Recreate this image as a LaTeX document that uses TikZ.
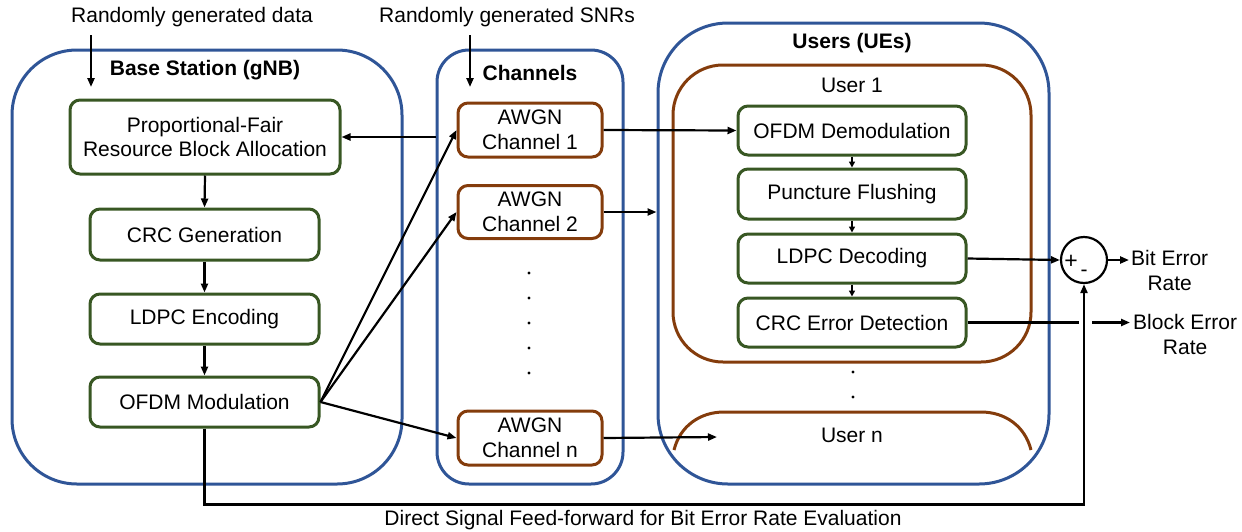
\documentclass[tikz,border=0pt]{standalone}
\usepackage{fontspec}
\setmainfont{Liberation Sans}
\usetikzlibrary{arrows.meta}
\definecolor{cblue}{RGB}{47,85,151}
\definecolor{cgreen}{RGB}{56,87,35}
\definecolor{cbrown}{RGB}{132,60,12}
\begin{document}
\begin{tikzpicture}[x=1pt,y=-1pt,
  every node/.style={font=\fontsize{21}{24.5}\selectfont, inner sep=0pt},
  bold/.style={font=\fontsize{21}{24.5}\selectfont\bfseries},
  cont/.style={draw=cblue, line width=3pt},
  gbox/.style={draw=cgreen, line width=3pt, rounded corners=10pt, fill=white, align=center},
  rbox/.style={draw=cbrown, line width=3pt, rounded corners=10pt, fill=white, align=center},
  arr/.style={line width=2.2pt, -{Triangle[length=9pt,width=7pt]}},
  sarr/.style={line width=2.2pt, -{Triangle[length=6pt,width=6pt]}},
  ln/.style={line width=2.2pt}]
\useasboundingbox (0,0) rectangle (1242,531);

% containers
\node[cont, rounded corners=65pt, minimum width=390pt, minimum height=434pt] (bs) at (207,267) {};
\node[cont, rounded corners=32pt, minimum width=186pt, minimum height=434pt] (chan) at (530,267) {};
\node[cont, rounded corners=70pt, minimum width=391pt, minimum height=461pt] (users) at (853.5,253.5) {};
\node[draw=cbrown, line width=3pt, rounded corners=50pt, minimum width=358pt, minimum height=297pt] (user1) at (852,213.5) {};
\draw[draw=cbrown, line width=3pt] (674,450) .. controls (680,426) and (700,412) .. (724,412) -- (981,412) .. controls (1005,412) and (1025,426) .. (1031,450);

% headings
\node[bold] (bsl) at (205,70) {Base Station (gNB)};
\node[bold] (chl) at (530,73) {Channels};
\node[bold] (usl) at (852,43) {Users (UEs)};
\node (u1l) at (852,85) {User 1};
\node (unl) at (852,435) {User n};

% top inputs
\node (data) at (192,17) {Randomly generated data};
\node (snr) at (507,17) {Randomly generated SNRs};
\coordinate (d0) at (91,35); \coordinate (d1) at (91,87);
\coordinate (s0) at (470,35); \coordinate (s1) at (470,87);
\draw[arr] (d0) -- (d1);
\draw[arr] (s0) -- (s1);

% base station blocks
\node[gbox, minimum width=270pt, minimum height=74pt] (pf) at (205,137) {Proportional-Fair\\Resource Block Allocation};
\node[gbox, minimum width=229pt, minimum height=51pt] (crcg) at (204.5,234.5) {CRC Generation};
\node[gbox, minimum width=229pt, minimum height=50pt] (ldpce) at (204.5,319) {LDPC Encoding};
\node[gbox, minimum width=229pt, minimum height=50pt] (ofdm) at (204.5,402) {OFDM Modulation};

% channels
\node[rbox, minimum width=144pt, minimum height=54pt] (ch1) at (530,130) {AWGN\\Channel 1};
\node[rbox, minimum width=144pt, minimum height=53pt] (ch2) at (530,212) {AWGN\\Channel 2};
\node[rbox, minimum width=144pt, minimum height=54pt] (chn) at (530,438) {AWGN\\Channel n};
\foreach \yy in {273,298,323,348,373} \fill (529,\yy) circle (1.6pt);

% user blocks
\node[gbox, minimum width=228pt, minimum height=49pt] (demod) at (852,130.5) {OFDM Demodulation};
\node[gbox, minimum width=228pt, minimum height=50pt] (flush) at (852,194) {Puncture Flushing};
\node[gbox, minimum width=228pt, minimum height=49pt] (ldpcd) at (852,258.5) {LDPC Decoding};
\node[gbox, minimum width=228pt, minimum height=49pt] (crcd) at (852,322.5) {CRC Error Detection};
\fill (853,372) circle (1.6pt);
\fill (853,397) circle (1.6pt);

% comparator
\node[draw, circle, line width=2.2pt, minimum size=46pt] (sum) at (1084,260) {};
\node[font=\fontsize{23}{24}\selectfont] (plus) at (1071,262) {+};
\node[font=\fontsize{21}{22}\selectfont] (minus) at (1084,273) {-};
\node[align=center, anchor=west] (ber) at (1131,270.5) {Bit Error\\Rate};
\node[align=center, anchor=west] (bler) at (1133,334.5) {Block Error\\Rate};
\coordinate (berin) at (1129,260);
\coordinate (blgap0) at (1079,322.5);
\coordinate (blgap1) at (1092,322.5);
\coordinate (blerin) at (1130,322.5);
\coordinate (unin) at (717,437);

% connectors in base station
\draw[arr] (pf.south) -- (crcg.north);
\draw[arr] (crcg.south) -- (ldpce.north);
\draw[arr] (ldpce.south) -- (ofdm.north);
\draw[arr] (chan.west |- pf.east) -- (pf.east);
\draw[arr] (ofdm.east) -- (ch1.west);
\draw[arr] (ofdm.east) -- (ch2.west);
\draw[arr] (ofdm.east) -- (chn.west);

% channels to users
\draw[arr] (ch1.east) -- (demod.west);
\draw[arr] (ch2.east) -- (users.west |- ch2.east);
\draw[arr] (chn.east) -- (unin);

% user chain
\draw[sarr] (demod.south) -- (flush.north);
\draw[sarr] (flush.south) -- (ldpcd.north);
\draw[sarr] (ldpcd.south) -- (crcd.north);

% outputs
\draw[arr] (ldpcd.east) -- (sum.west);
\draw[arr] (sum.east) -- (berin);
\draw[ln] (crcd.east) -- (blgap0);
\draw[arr] (blgap1) -- (blerin);
\draw[arr] (ofdm.south) -- ++(0,76) -| (sum.south);
\node (ffl) at (643,520) {Direct Signal Feed-forward for Bit Error Rate Evaluation};
\end{tikzpicture}
\end{document}
